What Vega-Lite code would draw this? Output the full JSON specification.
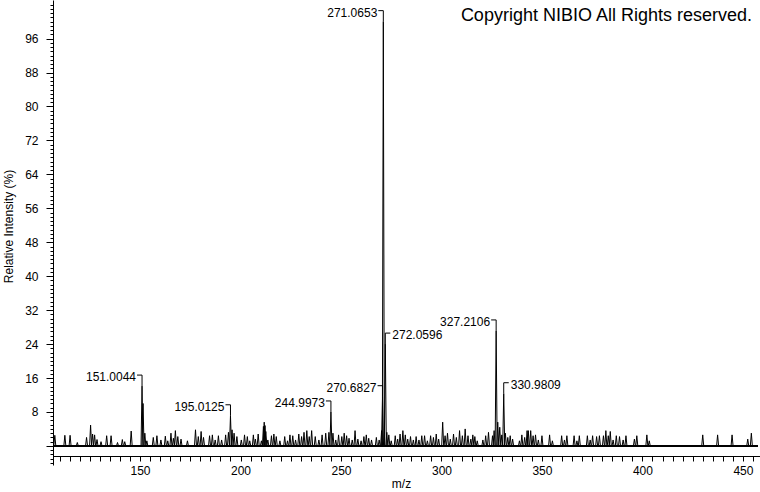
{
  "$schema": "https://vega.github.io/schema/vega-lite/v6.json",
  "width": 707,
  "height": 465,
  "autosize": "none",
  "padding": {"left": 53, "top": 0, "right": 0, "bottom": 27},
  "background": "white",
  "config": {"view": {"stroke": null}, "font": "Liberation Sans"},
  "title": {"text": "Copyright NIBIO All Rights reserved.", "anchor": "end", "frame": "group", "orient": "top", "offset": -40, "baseline": "alphabetic", "fontSize": 18, "fontWeight": "normal", "font": "Liberation Sans", "color": "black", "dx": -8},
  "data": {"values": [
    {"m":107.6,"i":2.5},{"m":112.6,"i":2.5},{"m":115.2,"i":2.5},{"m":118.8,"i":0.8},{"m":123.4,"i":2.0},{"m":125.4,"i":4.9},{"m":126.4,"i":2.8},{"m":127.4,"i":2.6},{"m":128.6,"i":1.5},{"m":130.6,"i":1.0},
    {"m":133.4,"i":2.4},{"m":135.6,"i":2.4},{"m":138.8,"i":0.8},{"m":141.2,"i":1.5},{"m":142.4,"i":1.0},{"m":145.6,"i":3.5},
    {"m":151.0044,"i":14.1,"label":"151.0044"},{"m":151.5,"i":10},{"m":152.4,"i":3.0},{"m":153.4,"i":1.2},{"m":156.6,"i":2.0},{"m":158.4,"i":2.4},{"m":160.4,"i":1.4},{"m":162.6,"i":2.3},{"m":163.8,"i":1.2},
    {"m":165.4,"i":3.0},{"m":166.6,"i":1.8},{"m":167.6,"i":3.6},{"m":168.8,"i":2.2},{"m":170.4,"i":1.6},{"m":173.6,"i":1.2},{"m":177.6,"i":3.8},{"m":179.0,"i":2.2},{"m":180.4,"i":3.4},{"m":181.6,"i":2.0},
    {"m":184.6,"i":2.4},{"m":186.0,"i":2.6},{"m":187.4,"i":1.4},{"m":189.0,"i":2.4},{"m":190.6,"i":1.4},{"m":192.6,"i":2.6},{"m":194.0,"i":3.2},
    {"m":195.0125,"i":7.1,"label":"195.0125"},{"m":195.8,"i":3.8},{"m":196.8,"i":3.0},{"m":198.2,"i":2.2},{"m":200.4,"i":1.4},{"m":202.0,"i":2.6},{"m":203.4,"i":2.2},{"m":204.6,"i":1.2},
    {"m":206.4,"i":2.6},{"m":207.4,"i":1.6},{"m":208.8,"i":2.8},{"m":210.4,"i":1.2},{"m":211.4,"i":4.6},{"m":211.8,"i":5.6},{"m":212.2,"i":4.8},{"m":212.6,"i":3.4},{"m":213.6,"i":1.4},
    {"m":215.4,"i":2.4},{"m":216.6,"i":2.8},{"m":217.8,"i":2.2},{"m":219.6,"i":1.2},{"m":222.0,"i":2.2},{"m":223.4,"i":1.2},{"m":224.6,"i":2.6},{"m":226.0,"i":2.4},{"m":227.4,"i":1.4},
    {"m":229.0,"i":2.8},{"m":230.4,"i":2.2},{"m":231.6,"i":3.2},{"m":233.0,"i":3.6},{"m":234.2,"i":2.2},{"m":235.4,"i":3.6},{"m":237.2,"i":2.2},{"m":239.0,"i":1.4},{"m":240.6,"i":2.6},
    {"m":242.4,"i":3.0},{"m":244.0,"i":3.2},{"m":244.9973,"i":8.0,"label":"244.9973"},{"m":246.0,"i":3.0},{"m":247.4,"i":1.4},{"m":248.8,"i":2.6},{"m":250.4,"i":2.2},{"m":251.6,"i":3.0},
    {"m":252.8,"i":2.4},{"m":254.0,"i":1.8},{"m":255.6,"i":1.4},{"m":257.0,"i":3.6},{"m":258.4,"i":1.6},{"m":260.0,"i":1.2},{"m":261.4,"i":2.2},{"m":262.6,"i":2.6},{"m":263.8,"i":1.8},
    {"m":265.2,"i":1.4},{"m":267.6,"i":2.0},{"m":269.0,"i":1.4},{"m":270.2,"i":3.6},
    {"m":270.6827,"i":11.6,"label":"270.6827"},{"m":271.0653,"i":100,"label":"271.0653"},{"m":272.0596,"i":24.0,"label":"272.0596"},
    {"m":272.8,"i":3.2},{"m":273.8,"i":2.6},{"m":275.0,"i":1.2},{"m":277.0,"i":2.4},{"m":278.2,"i":1.6},{"m":279.4,"i":2.8},{"m":280.8,"i":3.6},{"m":282.0,"i":2.6},{"m":283.2,"i":1.6},
    {"m":284.6,"i":2.2},{"m":286.0,"i":1.4},{"m":287.4,"i":2.2},{"m":288.8,"i":1.4},{"m":290.2,"i":2.4},{"m":291.6,"i":2.4},{"m":293.0,"i":1.2},{"m":294.6,"i":2.4},{"m":296.0,"i":2.0},
    {"m":297.4,"i":2.8},{"m":298.6,"i":1.6},{"m":300.6,"i":5.6},{"m":301.8,"i":2.4},{"m":303.0,"i":3.0},{"m":304.4,"i":1.6},{"m":306.0,"i":2.8},{"m":307.4,"i":2.0},{"m":309.0,"i":3.6},
    {"m":310.4,"i":2.4},{"m":311.8,"i":4.0},{"m":313.2,"i":2.4},{"m":314.6,"i":1.6},{"m":315.6,"i":2.6},{"m":316.6,"i":2.2},{"m":317.8,"i":1.2},{"m":320.6,"i":1.4},{"m":322.0,"i":2.4},
    {"m":323.4,"i":3.2},{"m":325.4,"i":2.4},{"m":326.2,"i":3.6},{"m":327.2106,"i":27.1,"label":"327.2106"},{"m":328.0,"i":5.6},{"m":329.0,"i":4.4},{"m":330.0,"i":2.6},
    {"m":330.9809,"i":12.3,"label":"330.9809"},{"m":331.8,"i":3.0},{"m":333.0,"i":2.0},{"m":334.2,"i":2.4},{"m":335.4,"i":1.6},{"m":338.8,"i":1.2},{"m":340.0,"i":2.6},{"m":341.4,"i":2.0},
    {"m":342.6,"i":3.6},{"m":343.2,"i":3.6},{"m":344.4,"i":3.6},{"m":345.6,"i":2.4},{"m":346.8,"i":2.6},{"m":348.2,"i":1.4},{"m":350.0,"i":2.4},{"m":353.8,"i":2.6},{"m":355.2,"i":1.2},
    {"m":359.8,"i":2.4},{"m":361.2,"i":1.4},{"m":362.4,"i":2.4},{"m":366.0,"i":2.4},{"m":367.4,"i":1.2},{"m":368.6,"i":2.4},{"m":372.6,"i":2.4},{"m":374.0,"i":1.4},{"m":375.2,"i":2.4},
    {"m":377.2,"i":2.2},{"m":378.6,"i":2.4},{"m":380.6,"i":2.4},{"m":381.8,"i":3.6},{"m":383.0,"i":2.4},{"m":384.0,"i":3.4},{"m":385.4,"i":1.4},{"m":387.0,"i":2.4},{"m":388.6,"i":2.2},
    {"m":390.4,"i":1.4},{"m":391.8,"i":2.4},{"m":396.0,"i":1.6},{"m":397.2,"i":2.4},{"m":402.2,"i":2.6},{"m":403.4,"i":1.2},
    {"m":430.0,"i":2.6},{"m":437.4,"i":2.6},{"m":444.6,"i":2.6},{"m":452.4,"i":1.6},{"m":454.2,"i":3.0}
  ]},
  "encoding": {
    "x": {"field": "m", "type": "quantitative",
      "scale": {"domain": [106.7, 458.5], "nice": false, "zero": false},
      "axis": {"values": [110,115,120,125,130,135,140,145,150,155,160,165,170,175,180,185,190,195,200,205,210,215,220,225,230,235,240,245,250,255,260,265,270,275,280,285,290,295,300,305,310,315,320,325,330,335,340,345,350,355,360,365,370,375,380,385,390,395,400,405,410,415,420,425,430,435,440,445,450,455],
        "labelExpr": "datum.value % 50 === 0 ? datum.label : ''",
        "title": "m/z", "titleX": 348, "titleFont": "Liberation Sans", "titleFontSize": 12, "titleFontWeight": "normal", "titleColor": "black", "titlePadding": 2,
        "offset": -9, "tickSize": 5, "tickColor": "black", "domainColor": "black", "grid": false,
        "labelPadding": 4, "labelFont": "Liberation Sans", "labelFontSize": 12, "labelColor": "black", "labelOverlap": false, "labelFlush": false, "labelBound": false}},
    "y": {"field": "i", "type": "quantitative",
      "scale": {"domain": [-4.5, 105.1], "nice": false, "zero": false},
      "axis": {"values": [-4,-3,-2,-1,0,1,2,3,4,5,6,7,8,9,10,11,12,13,14,15,16,17,18,19,20,21,22,23,24,25,26,27,28,29,30,31,32,33,34,35,36,37,38,39,40,41,42,43,44,45,46,47,48,49,50,51,52,53,54,55,56,57,58,59,60,61,62,63,64,65,66,67,68,69,70,71,72,73,74,75,76,77,78,79,80,81,82,83,84,85,86,87,88,89,90,91,92,93,94,95,96,97,98,99,100,101,102,103,104],
        "labelExpr": "datum.value > 0 && datum.value < 100 && datum.value % 8 === 0 ? datum.label : ''",
        "title": "Relative Intensity (%)", "titleY": 226, "titleFont": "Liberation Sans", "titleFontSize": 12, "titleFontWeight": "normal", "titleColor": "black", "titlePadding": 9,
        "tickSize": {"condition": {"test": "datum.value % 8 === 0 && datum.value < 100", "value": 7}, "value": 3},
        "tickColor": "black", "domainColor": "black", "grid": false,
        "labelPadding": 8, "labelFont": "Liberation Sans", "labelFontSize": 12, "labelColor": "black", "labelOverlap": false, "labelFlush": false, "labelBound": false}}
  },
  "layer": [
    {"mark": {"type": "rule", "color": "black", "strokeWidth": 1},
     "encoding": {"x": {"datum": 107.6, "type": "quantitative"}, "x2": {"datum": 457.5}, "y": {"datum": 0, "type": "quantitative"}}},
    {"mark": {"type": "rule", "color": "black", "strokeWidth": 1, "x2Offset": -1},
     "encoding": {"x2": {"field": "m"}, "y2": {"datum": 0}}},
    {"mark": {"type": "rule", "color": "black", "strokeWidth": 1, "x2Offset": 1},
     "encoding": {"x2": {"field": "m"}, "y2": {"datum": 0}}},
    {"transform": [{"filter": "datum.label"}],
     "mark": {"type": "rule", "color": "black", "strokeWidth": 1, "y2Offset": -11},
     "encoding": {"y2": {"field": "i"}}},
    {"transform": [{"filter": "datum.label && indexof(['272.0596','330.9809'], datum.label) < 0"}],
     "mark": {"type": "rule", "color": "black", "strokeWidth": 1, "yOffset": -11, "y2Offset": -11, "x2Offset": -5},
     "encoding": {"x2": {"field": "m"}, "y2": {"field": "i"}}},
    {"transform": [{"filter": "datum.label && indexof(['272.0596','330.9809'], datum.label) >= 0"}],
     "mark": {"type": "rule", "color": "black", "strokeWidth": 1, "yOffset": -11, "y2Offset": -11, "x2Offset": 5},
     "encoding": {"x2": {"field": "m"}, "y2": {"field": "i"}}},
    {"transform": [{"filter": "datum.label && indexof(['272.0596','330.9809'], datum.label) < 0"}],
     "mark": {"type": "text", "align": "right", "baseline": "middle", "dx": -6, "dy": -9, "font": "Liberation Sans", "fontSize": 12, "color": "black"},
     "encoding": {"text": {"field": "label"}}},
    {"transform": [{"filter": "datum.label && indexof(['272.0596','330.9809'], datum.label) >= 0"}],
     "mark": {"type": "text", "align": "left", "baseline": "middle", "dx": 7, "dy": -9, "font": "Liberation Sans", "fontSize": 12, "color": "black"},
     "encoding": {"text": {"field": "label"}}}
  ]
}
